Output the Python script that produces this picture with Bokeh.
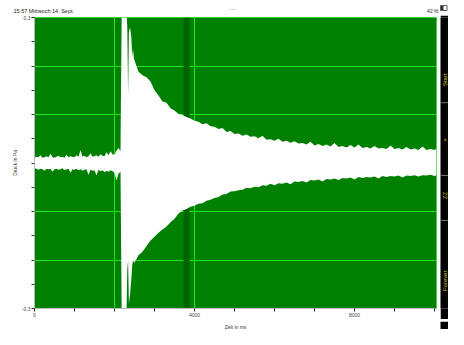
from math import pi
from bokeh.plotting import figure
from bokeh.layouts import row, column
from bokeh.models import Range1d, FixedTicker, ColumnDataSource
from bokeh.core.properties import value
from bokeh.embed import file_html
from bokeh.resources import INLINE

# ---------------- data ----------------
# noise before the strike of the tuning fork
t_pre = [0, 50, 100, 150, 200, 250, 300, 350, 400, 450,
         500, 550, 600, 650, 700, 750, 800, 850, 900, 950,
         1000, 1050, 1100, 1150, 1200, 1250, 1300, 1350, 1400, 1450,
         1500, 1550, 1600, 1650, 1700, 1750, 1800, 1850, 1900, 1950,
         2000, 2050, 2100, 2150]
upper_pre = [0.011, 0.013, 0.012, 0.016, 0.011, 0.012, 0.014, 0.012, 0.019, 0.012,
             0.011, 0.013, 0.015, 0.012, 0.013, 0.011, 0.017, 0.012, 0.014, 0.013,
             0.012, 0.016, 0.013, 0.027, 0.013, 0.015, 0.012, 0.014, 0.020, 0.013,
             0.014, 0.016, 0.013, 0.018, 0.015, 0.014, 0.022, 0.016, 0.024, 0.018,
             0.017, 0.026, 0.031, 0.024]
lower_pre = [-0.011, -0.012, -0.014, -0.012, -0.013, -0.016, -0.012, -0.013, -0.012, -0.018,
             -0.013, -0.012, -0.014, -0.013, -0.011, -0.015, -0.013, -0.012, -0.020, -0.013,
             -0.014, -0.012, -0.015, -0.013, -0.016, -0.014, -0.013, -0.024, -0.014, -0.016,
             -0.015, -0.026, -0.014, -0.017, -0.015, -0.019, -0.016, -0.018, -0.015, -0.017,
             -0.020, -0.036, -0.022, -0.018]

# the strike (clipped signal)
t_onset = [2180, 2300, 2320, 2340, 2360, 2390, 2420, 2445, 2465, 2485]
upper_onset = [0.31, 0.31, 0.28, 0.14, 0.27, 0.28, 0.26, 0.22, 0.235, 0.215]
lower_onset = [-0.31, -0.31, -0.22, -0.20, -0.29, -0.27, -0.24, -0.21, -0.20, -0.205]

# decaying tone
t_decay = [2500, 2600, 2700, 2800, 2900, 3000, 3100, 3200, 3300, 3400,
           3500, 3600, 3700, 3800, 3900, 4000, 4100, 4200, 4300, 4400,
           4500, 4600, 4700, 4800, 4900, 5000, 5100, 5200, 5300, 5400,
           5500, 5600, 5700, 5800, 5900, 6000, 6100, 6200, 6300, 6400,
           6500, 6600, 6700, 6800, 6900, 7000, 7100, 7200, 7300, 7400,
           7500, 7600, 7700, 7800, 7900, 8000, 8100, 8200, 8300, 8400,
           8500, 8600, 8700, 8800, 8900, 9000, 9100, 9200, 9300, 9400,
           9500, 9600, 9700, 9800, 9900, 10000, 10050]
upper_decay = [0.212, 0.188, 0.181, 0.177, 0.168, 0.150, 0.139, 0.127, 0.124, 0.113,
               0.108, 0.101, 0.099, 0.095, 0.092, 0.087, 0.085, 0.080, 0.082, 0.076,
               0.075, 0.070, 0.072, 0.064, 0.066, 0.060, 0.061, 0.056, 0.059, 0.054,
               0.055, 0.051, 0.056, 0.048, 0.049, 0.046, 0.050, 0.044, 0.046, 0.042,
               0.045, 0.040, 0.041, 0.038, 0.044, 0.036, 0.039, 0.035, 0.038, 0.034,
               0.041, 0.033, 0.035, 0.032, 0.037, 0.032, 0.038, 0.031, 0.033, 0.030,
               0.035, 0.030, 0.031, 0.029, 0.036, 0.029, 0.031, 0.028, 0.033, 0.028,
               0.030, 0.027, 0.034, 0.027, 0.029, 0.027, 0.030]
lower_decay = [-0.205, -0.190, -0.183, -0.171, -0.160, -0.152, -0.144, -0.137, -0.131, -0.122,
               -0.115, -0.104, -0.098, -0.095, -0.090, -0.088, -0.084, -0.083, -0.078, -0.076,
               -0.072, -0.070, -0.065, -0.064, -0.059, -0.058, -0.056, -0.055, -0.051, -0.052,
               -0.049, -0.050, -0.046, -0.047, -0.043, -0.046, -0.042, -0.043, -0.040, -0.044,
               -0.038, -0.039, -0.037, -0.040, -0.035, -0.036, -0.034, -0.038, -0.033, -0.034,
               -0.032, -0.035, -0.031, -0.032, -0.030, -0.034, -0.029, -0.031, -0.029, -0.030,
               -0.028, -0.032, -0.027, -0.029, -0.027, -0.028, -0.026, -0.030, -0.026, -0.027,
               -0.025, -0.028, -0.025, -0.026, -0.024, -0.027, -0.025]

band_ms = [3725, 3875]          # darker highlighted strip
cursor_ms = [2000, 4000]        # bright vertical lines
grid_pa = [-0.2, -0.1, 0.1, 0.2]
x_major = [0, 4000, 8000]
x_minor = [1000, 2000, 3000, 5000, 6000, 7000, 9000, 10000]
y_major = [-0.3, 0.3]
y_minor = [-0.25, -0.2, -0.15, -0.1, -0.05, 0.0, 0.05, 0.1, 0.15, 0.2, 0.25]
y_labels = {0.3: "0,3", -0.3: "-0,3"}
buttons = ["Start", ">", "ZZ", "Forever"]
status_left = "15:57   Mittwoch 14. Sept."
status_right = "42 %"
x_title = "Zeit in ms"
y_title = "Druck in Pa"
caption = "Aufnahme bei einer 1000 Hz-Stimm"

FONT = "Liberation Sans"
W_MAIN, W_PANEL = 440, 8
H_STATUS, H_CAPTION = 15, 10
H_MAIN = 329 - H_STATUS - H_CAPTION
TOP_STATUS = 0
TOP_MAIN = H_STATUS
TOP_CAPTION = H_STATUS + H_MAIN


def strip(width, height, top):
    """A bare figure whose data units are page pixels (y grows downwards)."""
    f = figure(width=width, height=height, x_range=Range1d(0, width),
               y_range=Range1d(top + height, top), output_backend="svg",
               toolbar_location=None, x_axis_location=None, y_axis_location=None,
               min_border=0, title=None)
    f.grid.visible = False
    f.outline_line_color = None
    f.background_fill_color = "white"
    f.border_fill_color = "white"
    return f


# ---------------- status bar ----------------
s = strip(W_MAIN + W_PANEL, H_STATUS, TOP_STATUS)
s.text(x=[13], y=[10], text=[status_left], text_font_size="5.5px",
       text_color="#222222", text_baseline="alphabetic", text_font=value(FONT))
s.text(x=[232], y=[9], text=["\u2022 \u2022 \u2022"], text_font_size="4px",
       text_color="#999999", text_align="center", text_baseline="alphabetic",
       text_font=value(FONT))
s.text(x=[438], y=[10], text=[status_right], text_font_size="5px", text_align="right",
       text_color="#222222", text_baseline="alphabetic", text_font=value(FONT))
s.quad(left=[440], right=[446.5], top=[5], bottom=[10], fill_color=None,
       line_color="#333333", line_width=0.8)
s.quad(left=[440.5], right=[443], top=[5.5], bottom=[9.5], fill_color="#333333",
       line_color=None)

# ---------------- main waveform plot ----------------
src = ColumnDataSource(dict(
    t=t_pre + t_onset + t_decay,
    upper=upper_pre + upper_onset + upper_decay,
    lower=lower_pre + lower_onset + lower_decay,
))

p = figure(width=W_MAIN, height=H_MAIN, x_range=Range1d(0, 10050), y_range=Range1d(-0.3, 0.3),
           output_backend="svg", toolbar_location=None, title=None,
           min_border_left=34, min_border_right=4, min_border_top=2, min_border_bottom=10)
p.background_fill_color = "#008000"
p.border_fill_color = "white"
p.outline_line_color = "#3fd43f"

p.xgrid.ticker = FixedTicker(ticks=cursor_ms)
p.xgrid.grid_line_color = "#1fe81f"
p.ygrid.ticker = FixedTicker(ticks=grid_pa)
p.ygrid.grid_line_color = "#1fe81f"

p.quad(left=[band_ms[0]], right=[band_ms[1]], bottom=[-0.3], top=[0.3],
       fill_color="#006400", line_color=None)
p.varea(x="t", y1="lower", y2="upper", source=src, fill_color="white")

xa = p.xaxis[0]
xa.ticker = FixedTicker(ticks=x_major, minor_ticks=x_minor)
ya = p.yaxis[0]
ya.ticker = FixedTicker(ticks=y_major, minor_ticks=y_minor)
ya.major_label_overrides = y_labels
ya.axis_label = y_title
for ax in (xa, ya):
    ax.axis_line_color = "#bbbbbb"
    ax.major_tick_out = 3
    ax.major_tick_in = 0
    ax.minor_tick_out = 3
    ax.minor_tick_in = 0
    ax.major_tick_line_color = "#222222"
    ax.minor_tick_line_color = "#333333"
    ax.major_label_text_font_size = "5px"
    ax.major_label_text_font = FONT
    ax.major_label_text_color = "#444444"
    ax.major_label_standoff = 1
    ax.axis_label_text_font_size = "5px"
    ax.axis_label_text_font_style = "normal"
    ax.axis_label_text_font = FONT
    ax.axis_label_standoff = 1
    ax.axis_label_text_color = "#333333"

# ---------------- right-hand button strip ----------------
q = strip(W_PANEL, H_MAIN, TOP_MAIN)
q.background_fill_color = "black"
q.border_fill_color = "black"
q.segment(x0=[0, 0, 0], x1=[W_PANEL] * 3, y0=[104, 180, 227], y1=[104, 180, 227],
          line_color="#777777", line_width=1)
q.text(x=[W_PANEL / 2 + 0.5] * 4, y=[80, 143, 201, 290], text=buttons, angle=pi / 2,
       text_align="center", text_baseline="middle", text_color="#d8d820",
       text_font_size="6px", text_font=value(FONT))

# ---------------- x-axis title and caption (only its top is visible) ----------------
c = strip(W_MAIN + W_PANEL, H_CAPTION, TOP_CAPTION)
c.text(x=[235], y=[TOP_CAPTION + 5.5], text=[x_title], text_font_size="5px",
       text_color="#333333", text_align="center", text_baseline="alphabetic",
       text_font=value(FONT))
# anchor inside the strip, pushed down (negative y_offset = downwards on screen)
c.text(x=[15], y=[TOP_CAPTION + 0.5], y_offset=-21.5, text=[caption], text_font_size="28px",
       text_color="#111111", text_baseline="alphabetic", text_font=value(FONT))
c.quad(left=[W_MAIN], right=[W_MAIN + W_PANEL], top=[TOP_CAPTION],
       bottom=[TOP_CAPTION + H_CAPTION], fill_color="black", line_color=None)

layout = column(s, row(p, q, spacing=0), c, spacing=0)
open("out.html", "w").write(file_html(layout, INLINE))
